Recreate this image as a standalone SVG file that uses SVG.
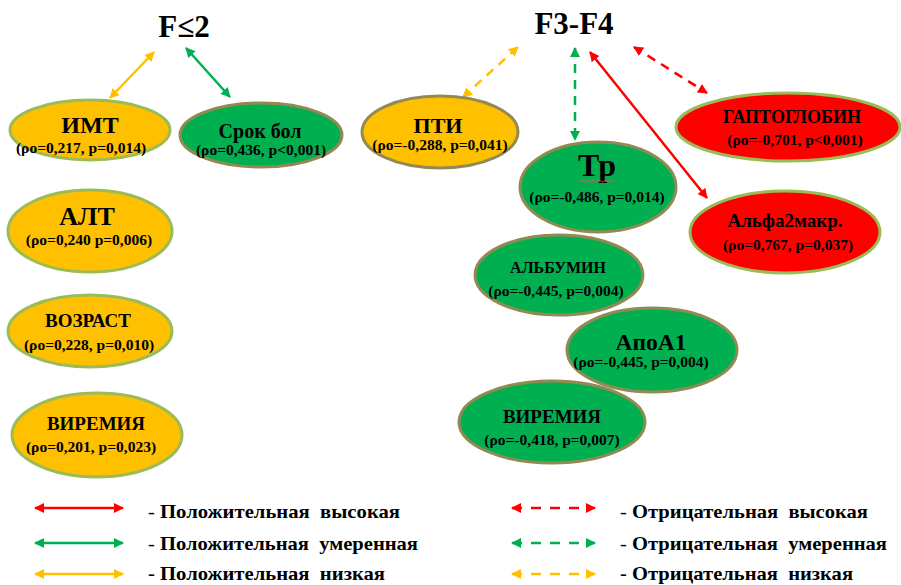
<svg xmlns="http://www.w3.org/2000/svg" width="901" height="585" viewBox="0 0 901 585">
<style>
text{font-family:"Liberation Serif","Times New Roman",serif;font-weight:bold;fill:#000;text-anchor:middle}
.t{font-size:31px}
.s{font-size:15.5px}
.lg{font-size:19px;text-anchor:start;white-space:pre}
.o{fill:#FFC000}
.g{fill:#00B050}
.r{fill:#FF0000}
.bl{stroke:#9BBB59;stroke-width:3}
.bb{stroke:#938953;stroke-width:3}
.ao{stroke:#FFC000;stroke-width:2.5;fill:none;marker-start:url(#mo);marker-end:url(#mo)}
.ag{stroke:#00B050;stroke-width:2.5;fill:none;marker-start:url(#mg);marker-end:url(#mg)}
.ar{stroke:#FF0000;stroke-width:2.5;fill:none;marker-start:url(#mr);marker-end:url(#mr)}
.d{stroke-dasharray:9 7}
</style>
<defs>
<marker id="mo" viewBox="0 0 10 10" refX="9" refY="5" markerWidth="4" markerHeight="4" orient="auto-start-reverse"><path d="M0,0 L10,5 L0,10 Z" fill="#FFC000"/></marker>
<marker id="mg" viewBox="0 0 10 10" refX="9" refY="5" markerWidth="4" markerHeight="4" orient="auto-start-reverse"><path d="M0,0 L10,5 L0,10 Z" fill="#00B050"/></marker>
<marker id="mr" viewBox="0 0 10 10" refX="9" refY="5" markerWidth="4" markerHeight="4" orient="auto-start-reverse"><path d="M0,0 L10,5 L0,10 Z" fill="#FF0000"/></marker>
</defs>
<rect width="901" height="585" fill="#fff"/>

<g id="title-f2"><text class="t" x="184" y="37">F≤2</text></g>
<g id="title-f34"><text class="t" x="574" y="34">F3-F4</text></g>

<g id="connectors">
<line class="ao" x1="110" y1="98" x2="154" y2="52"/>
<line class="ag" x1="186" y1="48" x2="230" y2="97"/>
<line class="ao d" x1="463" y1="97" x2="518" y2="47"/>
<line class="ag d" x1="575" y1="48" x2="575" y2="140"/>
<line class="ar" x1="590" y1="52" x2="707" y2="198"/>
<line class="ar d" x1="634" y1="47" x2="707" y2="93"/>
</g>

<g id="imt"><ellipse class="o bl" cx="90" cy="130" rx="80" ry="30"/>
<text x="90" y="133" style="font-size:24px">ИМТ</text><text class="s" x="81" y="153">(ρo=0,217, p=0,014)</text></g>
<g id="srok"><ellipse class="g bb" cx="261" cy="135" rx="81" ry="32"/>
<text x="260" y="138" style="font-size:20px">Срок бол</text><text class="s" x="261" y="155">(ρo=0,436, p&lt;0,001)</text></g>
<g id="alt"><ellipse class="o bl" cx="90" cy="231" rx="82" ry="41"/>
<text x="87" y="225" style="font-size:26px">АЛТ</text><text class="s" x="89" y="245">(ρo=0,240  p=0,006)</text></g>
<g id="vozrast"><ellipse class="o bl" cx="90" cy="331" rx="82" ry="36"/>
<text x="88" y="327" style="font-size:19px">ВОЗРАСТ</text><text class="s" x="89" y="350">(ρo=0,228, p=0,010)</text></g>
<g id="viremia1"><ellipse class="o bl" cx="97" cy="435" rx="85" ry="42"/>
<text x="96" y="430" style="font-size:19px">ВИРЕМИЯ</text><text class="s" x="91" y="452">(ρo=0,201, p=0,023)</text></g>

<g id="pti"><ellipse class="o bb" cx="440" cy="132" rx="78" ry="36"/>
<text x="438" y="133" style="font-size:22px">ПТИ</text><text class="s" x="440" y="150">(ρo=-0,288, p=0,041)</text></g>
<g id="tp"><ellipse class="g bb" cx="598" cy="187" rx="78" ry="45"/>
<text x="597" y="176" style="font-size:32px">Тр</text>
<path d="M580,181 q1.5,-2 3,0 t3,0 t3,0 t3,0 t3,0 t3,0 t3,0 t3,0 t3,0 t3,0 t3,0" fill="none" stroke="#E06060" stroke-width="0.8"/>
<text class="s" x="597" y="202">(ρo=-0,486, p=0,014)</text></g>
<g id="gapto"><ellipse class="r bl" cx="788" cy="127" rx="112" ry="34"/>
<text x="792" y="123" style="font-size:18px">ГАПТОГЛОБИН</text><text class="s" x="795" y="145">(ρo=-0,701, p&lt;0,001)</text></g>
<g id="alfa"><ellipse class="r bl" cx="785" cy="232" rx="95" ry="41"/>
<text x="785" y="227" style="font-size:19px">Альфа2макр.</text><text class="s" x="788" y="250">(ρo=0,767, p=0,037)</text></g>
<g id="albumin"><ellipse class="g bb" cx="559" cy="275" rx="84" ry="40"/>
<text x="558" y="273" style="font-size:16px">АЛЬБУМИН</text><text class="s" x="556" y="296">(ρo=-0,445, p=0,004)</text></g>
<g id="apoa1"><ellipse class="g bb" cx="652" cy="350" rx="85" ry="42"/>
<text x="651" y="350" style="font-size:23.5px">АпоА1</text><text class="s" x="641" y="367">(ρo=-0,445, p=0,004)</text></g>
<g id="viremia2"><ellipse class="g bb" cx="552" cy="422" rx="93" ry="41"/>
<text x="552" y="423" style="font-size:19px">ВИРЕМИЯ</text><text class="s" x="552" y="445">(ρo=-0,418, p=0,007)</text></g>

<g id="legend">
<line class="ar" x1="35" y1="508" x2="123" y2="508"/>
<line class="ag" x1="35" y1="543" x2="123" y2="543"/>
<line class="ao" x1="35" y1="574" x2="123" y2="574"/>
<text class="lg" x="148" y="518" textLength="252" lengthAdjust="spacingAndGlyphs"><tspan style="font-weight:normal">-</tspan> Положительная  высокая</text>
<text class="lg" x="148" y="550" textLength="270" lengthAdjust="spacingAndGlyphs"><tspan style="font-weight:normal">-</tspan> Положительная  умеренная</text>
<text class="lg" x="148" y="580" textLength="237" lengthAdjust="spacingAndGlyphs">- Положительная  низкая</text>
<line class="ar" x1="512" y1="508" x2="595" y2="508" style="stroke-dasharray:10 9"/>
<line class="ag" x1="512" y1="543" x2="595" y2="543" style="stroke-dasharray:10 9"/>
<line class="ao" x1="512" y1="574" x2="595" y2="574" style="stroke-dasharray:10 9"/>
<text class="lg" x="620" y="518" textLength="248" lengthAdjust="spacingAndGlyphs"><tspan style="font-weight:normal">-</tspan> Отрицательная  высокая</text>
<text class="lg" x="620" y="550" textLength="267" lengthAdjust="spacingAndGlyphs"><tspan style="font-weight:normal">-</tspan> Отрицательная  умеренная</text>
<text class="lg" x="620" y="580" textLength="233" lengthAdjust="spacingAndGlyphs">- Отрицательная  низкая</text>
</g>
</svg>
